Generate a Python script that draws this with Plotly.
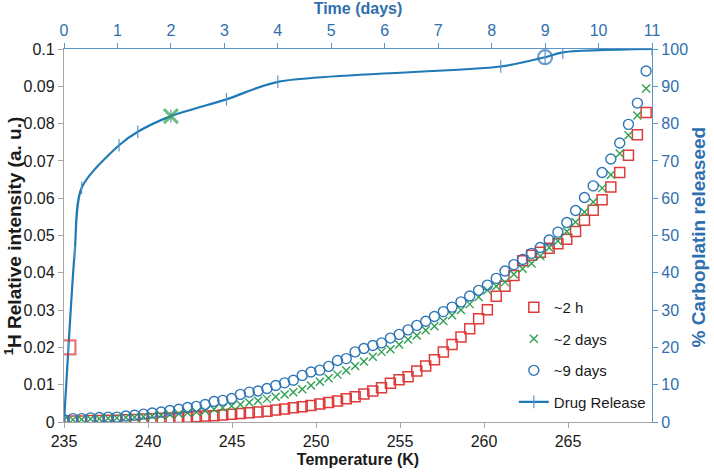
import plotly.graph_objects as go

# ---------------- data ----------------
temperature_K = [
    235.00, 235.53, 236.05, 236.58, 237.10, 237.63, 238.15, 238.68, 239.20, 239.73,
    240.25, 240.78, 241.30, 241.83, 242.35, 242.88, 243.40, 243.93, 244.45, 244.98,
    245.50, 246.03, 246.55, 247.08, 247.60, 248.13, 248.65, 249.18, 249.70, 250.23,
    250.75, 251.28, 251.80, 252.33, 252.85, 253.38, 253.90, 254.43, 254.95, 255.48,
    256.00, 256.53, 257.05, 257.58, 258.10, 258.63, 259.15, 259.68, 260.20, 260.73,
    261.25, 261.78, 262.30, 262.83, 263.35, 263.88, 264.40, 264.93, 265.45, 265.98,
    266.50, 267.03, 267.55, 268.08, 268.60, 269.13, 269.65,
]

intensity_2h = [
    0.0003, 0.0003, 0.0003, 0.0004, 0.0004, 0.0005, 0.0005, 0.0006, 0.0007, 0.0008,
    0.0009, 0.0010, 0.0011, 0.0012, 0.0013, 0.0014, 0.0016, 0.0017, 0.0019, 0.0021,
    0.0023, 0.0025, 0.0027, 0.0029, 0.0032, 0.0035, 0.0038, 0.0041, 0.0044, 0.0048,
    0.0052, 0.0056, 0.0062, 0.0068, 0.0075, 0.0083, 0.0092, 0.0104, 0.0113, 0.0121,
    0.0137, 0.0150, 0.0167, 0.0188, 0.0208, 0.0228, 0.0250, 0.0277, 0.0301, 0.0337,
    0.0364, 0.0393, 0.0432, 0.0447, 0.0455, 0.0466, 0.0478, 0.0490, 0.0511, 0.0541,
    0.0568, 0.0596, 0.0630, 0.0669, 0.0715, 0.0770, 0.0830,
]

intensity_2days = [
    0.0005, 0.0006, 0.0007, 0.0008, 0.0009, 0.0010, 0.0011, 0.0012, 0.0013, 0.0014,
    0.0016, 0.0018, 0.0020, 0.0022, 0.0025, 0.0027, 0.0030, 0.0034, 0.0038, 0.0043,
    0.0047, 0.0052, 0.0057, 0.0062, 0.0068, 0.0074, 0.0080, 0.0088, 0.0098, 0.0108,
    0.0117, 0.0127, 0.0138, 0.0150, 0.0162, 0.0175, 0.0188, 0.0195, 0.0208, 0.0221,
    0.0232, 0.0246, 0.0257, 0.0271, 0.0286, 0.0300, 0.0316, 0.0335, 0.0353, 0.0364,
    0.0375, 0.0396, 0.0411, 0.0425, 0.0445, 0.0467, 0.0485, 0.0511, 0.0536, 0.0563,
    0.0590, 0.0627, 0.0663, 0.0720, 0.0769, 0.0822, 0.0894,
]

intensity_9days = [
    0.0006, 0.0009, 0.0009, 0.0011, 0.0012, 0.0013, 0.0013, 0.0016, 0.0018, 0.0021,
    0.0024, 0.0027, 0.0031, 0.0034, 0.0039, 0.0042, 0.0047, 0.0055, 0.0058, 0.0063,
    0.0074, 0.0080, 0.0083, 0.0090, 0.0098, 0.0105, 0.0112, 0.0125, 0.0134, 0.0139,
    0.0149, 0.0165, 0.0170, 0.0188, 0.0197, 0.0205, 0.0212, 0.0225, 0.0235, 0.0247,
    0.0259, 0.0270, 0.0283, 0.0296, 0.0308, 0.0322, 0.0338, 0.0353, 0.0367, 0.0385,
    0.0405, 0.0422, 0.0436, 0.0452, 0.0468, 0.0488, 0.0509, 0.0535, 0.0567, 0.0602,
    0.0633, 0.0669, 0.0705, 0.0748, 0.0798, 0.0855, 0.0941,
]

release_time_days = [0, 0.083, 0.2, 0.33, 1.03, 1.38, 2.0, 3.04, 4.0, 8.17, 9.0, 9.33, 11.0]
release_pct = [0, 20, 45.5, 62.8, 74.2, 77.8, 82.0, 86.5, 91.2, 95.3, 97.8, 99.1, 100]

sample_time_days = [0.083, 2.0, 9.0]
sample_pct = [20, 82.0, 97.8]

temp_ticks = [235, 240, 245, 250, 255, 260, 265]
time_ticks = list(range(0, 12))
pct_ticks = list(range(0, 101, 10))

# ---------------- style ----------------
RED = "#DE3B3B"
GREEN = "#2EA04F"
BLUE_C = "#2E75B6"
LINE_BLUE = "#1F7AB5"
AX_BLUE = "#5A95C8"
TXT_BLUE = "#2F6FAE"
GREY = "#A6A6A6"
DARK = "#1a1a1a"
FONT = "Liberation Sans, Arial, sans-serif"

fig = go.Figure()

fig.add_trace(go.Scatter(
    x=temperature_K, y=intensity_2h, mode="markers", name="~2 h",
    legendgroup="a",
    marker=dict(symbol="square-open", size=10, color=RED, line=dict(width=1.5, color=RED)),
))
fig.add_trace(go.Scatter(
    x=temperature_K, y=intensity_2days, mode="markers", name="~2 days",
    legendgroup="b",
    marker=dict(symbol="x-thin-open", size=8, color=GREEN, line=dict(width=1.4, color=GREEN)),
))
fig.add_trace(go.Scatter(
    x=temperature_K, y=intensity_9days, mode="markers", name="~9 days",
    legendgroup="c",
    marker=dict(symbol="circle-open", size=10, color=BLUE_C, line=dict(width=1.4, color=BLUE_C)),
))
fig.add_trace(go.Scatter(
    x=release_time_days, y=release_pct, mode="lines+markers", name="Drug Release",
    legendgroup="d", xaxis="x2", yaxis="y2",
    line=dict(color=LINE_BLUE, width=2.2, shape="spline", smoothing=0.8),
    marker=dict(symbol="line-ns", size=9, color=AX_BLUE, line=dict(width=1.2, color=AX_BLUE)),
))
fig.add_trace(go.Scatter(
    x=sample_time_days, y=sample_pct, mode="markers", showlegend=False,
    xaxis="x2", yaxis="y2",
    marker=dict(symbol=["square-open", "x-thin-open", "circle-open"], size=[14, 14, 14],
                color=[RED, GREEN, BLUE_C],
                line=dict(width=[2.2, 3, 2.2], color=[RED, GREEN, BLUE_C])),
))

fig.update_layout(
    width=714, height=475,
    margin=dict(l=64, r=62, t=49, b=53, autoexpand=False),
    paper_bgcolor="white", plot_bgcolor="white",
    font=dict(family=FONT, size=16, color=DARK),
    showlegend=True,
    legend=dict(
        x=0.765, y=0.351, xanchor="left", yanchor="top",
        bgcolor="rgba(0,0,0,0)", font=dict(size=15, color=DARK),
        traceorder="grouped", tracegroupgap=9, itemwidth=30,
    ),
    xaxis=dict(
        range=[235, 270], tickvals=temp_ticks, showgrid=False, zeroline=False,
        automargin=False,
        showline=True, linecolor=GREY, linewidth=1.3,
        ticks="outside", ticklen=5, tickcolor=GREY,
        tickfont=dict(size=16, color=DARK),
        title=dict(text="<b>Temperature (K)</b>", font=dict(size=16, color=DARK), standoff=4),
    ),
    yaxis=dict(
        range=[0, 0.1], dtick=0.01, showgrid=False, zeroline=False,
        automargin=False,
        showline=True, linecolor=GREY, linewidth=1.3,
        ticks="outside", ticklen=5, tickcolor=GREY,
        tickfont=dict(size=16, color=DARK),
    ),
    xaxis2=dict(
        overlaying="x", side="top", anchor="y2", range=[0, 11], tickvals=time_ticks,
        automargin=False,
        showgrid=False, zeroline=False, showline=True, linecolor=AX_BLUE, linewidth=1.3,
        ticks="outside", ticklen=5, tickcolor=AX_BLUE,
        tickfont=dict(size=16, color=TXT_BLUE),
        title=dict(text="<b>Time (days)</b>", font=dict(size=16, color=TXT_BLUE), standoff=5),
    ),
    yaxis2=dict(
        overlaying="y", side="right", anchor="x2", range=[0, 100], tickvals=pct_ticks,
        automargin=False,
        showgrid=False, zeroline=False, showline=True, linecolor=AX_BLUE, linewidth=1.3,
        ticks="outside", ticklen=5, tickcolor=AX_BLUE,
        tickfont=dict(size=16, color=TXT_BLUE),
    ),
    annotations=[
        dict(text="<b><sup>1</sup>H Relative intensity (a. u.)</b>", xref="paper", yref="paper",
             x=-0.087, y=0.5, xanchor="center", yanchor="middle", textangle=-90,
             showarrow=False, font=dict(size=19, color=DARK)),
        dict(text="<b>% Carboplatin releaseed</b>", xref="paper", yref="paper",
             x=1.0785, y=0.495, xanchor="center", yanchor="middle", textangle=-90,
             showarrow=False, font=dict(size=19, color=TXT_BLUE)),
    ],
)

fig.write_html(
    "out.html",
    config={"displayModeBar": False},
    post_script="document.body.style.margin='0px';document.body.style.padding='0px';",
)
